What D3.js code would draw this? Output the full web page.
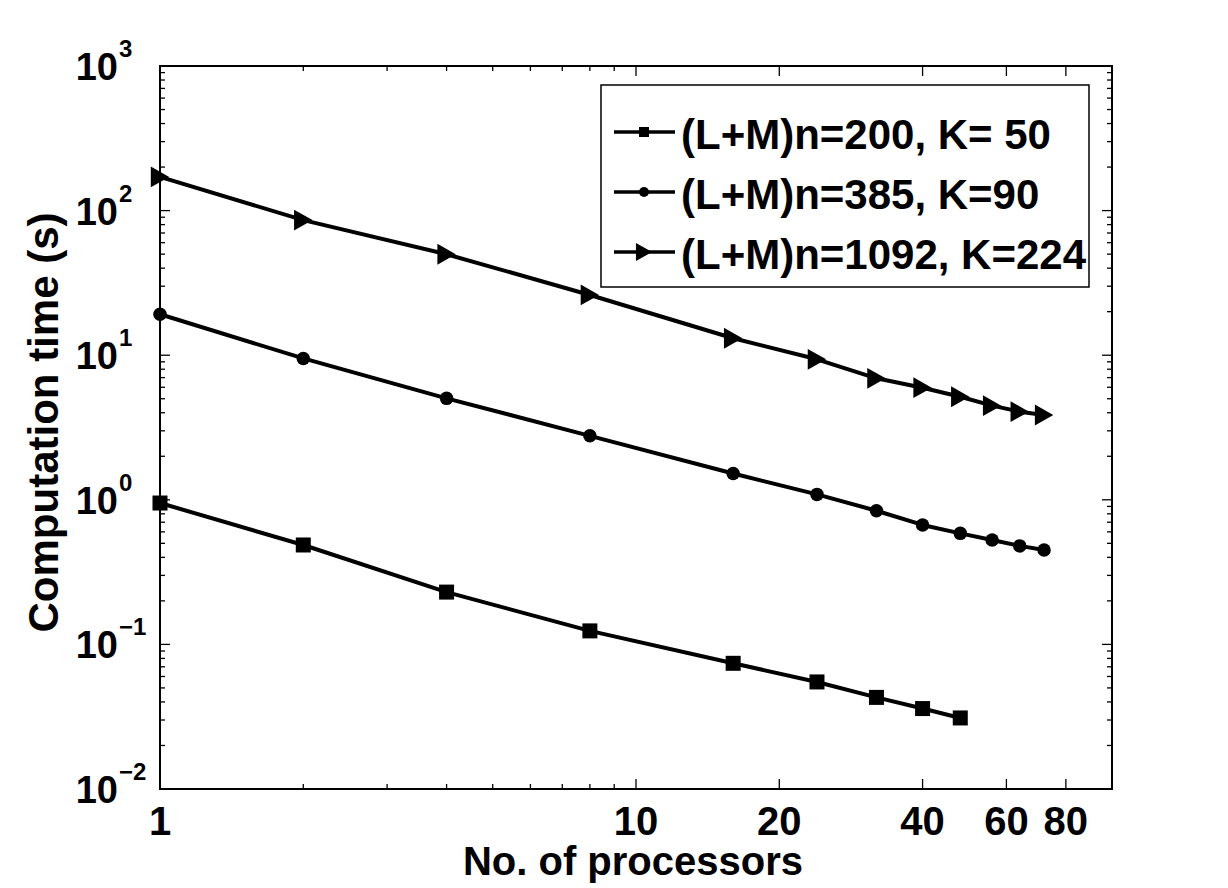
<!DOCTYPE html>
<html>
<head>
<meta charset="utf-8">
<script src="https://cdn.jsdelivr.net/npm/d3@7"></script>
<style>
    body { margin: 0; background: #fff; }
    text { font-family: "Liberation Sans", Arial, Helvetica, sans-serif; font-weight: bold; fill: #000; }
</style>
</head>
<body>
<svg id="chart" width="1228" height="888"></svg>
<script>
    // number of processors used in each run
    const procs = [1, 2, 4, 8, 16, 24, 32, 40, 48, 56, 64, 72];

    // computation time (s) per series
    const timeK50 = [0.95, 0.487, 0.23, 0.124, 0.074, 0.055, 0.043, 0.036, 0.031];
    const timeK90 = [19.2, 9.5, 5.03, 2.77, 1.52, 1.09, 0.84, 0.67, 0.586, 0.527, 0.48, 0.45];
    const timeK224 = [171, 86, 49.9, 26.1, 13.1, 9.37, 6.92, 5.96, 5.16, 4.48, 4.07, 3.86];

    const seriesNames = ['(L+M)n=200, K= 50', '(L+M)n=385, K=90', '(L+M)n=1092, K=224'];
    const seriesMarkers = ['square', 'circle', 'triangle'];

    const xTickValues = [1, 10, 20, 40, 60, 80];
    const yTickExponents = [-2, -1, 0, 1, 2, 3];

    let margin = {top: 66, right: 116, bottom: 99, left: 160},
        width = 1228 - margin.left - margin.right,
        height = 888 - margin.top - margin.bottom,
        majorTick = 10,
        minorTick = 5,
        lineWidth = 4;

    const svg = d3.select('#chart');
    const g = svg.append('g')
        .attr('transform', `translate(${margin.left},${margin.top})`);

    const x = d3.scaleLog().domain([1, 100]).range([0, width]);
    const y = d3.scaleLog().domain([1e-2, 1e3]).range([height, 0]);

    const series = [timeK50, timeK90, timeK224].map((vals, i) => ({
        name: seriesNames[i],
        marker: seriesMarkers[i],
        points: vals.map((v, j) => ({p: procs[j], t: v}))
    }));

    // ticks: minor ones inside the first decade on x, every 1..9 on y
    const xMinor = x.ticks().filter(v => v > 1 && v < 10);
    const yMinor = y.ticks().filter(v => !yTickExponents.some(e => Math.abs(Math.log10(v) - e) < 1e-6));
    const yMajor = yTickExponents.map(e => Math.pow(10, e));

    function drawTicks(values, len) {
        const tk = g.append('g').attr('stroke', '#000').attr('stroke-width', 1.3);
        values.filter(v => v <= 100).forEach(v => {
            const px = x(v);
            tk.append('line').attr('x1', px).attr('x2', px).attr('y1', height).attr('y2', height - len);
            tk.append('line').attr('x1', px).attr('x2', px).attr('y1', 0).attr('y2', len);
        });
    }
    function drawYTicks(values, len) {
        const tk = g.append('g').attr('stroke', '#000').attr('stroke-width', 1.3);
        values.forEach(v => {
            const py = y(v);
            tk.append('line').attr('x1', 0).attr('x2', len).attr('y1', py).attr('y2', py);
            tk.append('line').attr('x1', width).attr('x2', width - len).attr('y1', py).attr('y2', py);
        });
    }
    drawTicks(xMinor, minorTick);
    drawTicks(xTickValues, majorTick);
    drawYTicks(yMinor, minorTick);
    drawYTicks(yMajor, majorTick);

    // axes box
    g.append('rect')
        .attr('width', width)
        .attr('height', height)
        .attr('fill', 'none')
        .attr('stroke', '#000')
        .attr('stroke-width', 2);

    // x tick labels
    g.append('g').selectAll('text')
        .data(xTickValues)
        .join('text')
        .attr('x', d => x(d))
        .attr('y', height + 46)
        .attr('text-anchor', 'middle')
        .style('font-size', '40px')
        .text(d => d);

    // y tick labels as 10 with a superscript exponent
    g.append('g').selectAll('text')
        .data(yTickExponents)
        .join('text')
        .attr('x', -42)
        .attr('y', d => y(Math.pow(10, d)) + 14)
        .attr('text-anchor', 'end')
        .style('font-size', '38px')
        .text('10');
    g.append('g').selectAll('text')
        .data(yTickExponents)
        .join('text')
        .attr('x', -41)
        .attr('y', d => y(Math.pow(10, d)) - 9)
        .attr('text-anchor', 'start')
        .style('font-size', '24px')
        .text(d => d < 0 ? '\u2212' + Math.abs(d) : d);

    // axis titles
    g.append('text')
        .attr('x', width / 2 - 3)
        .attr('y', height + 86)
        .attr('text-anchor', 'middle')
        .style('font-size', '40px')
        .text('No. of processors');

    g.append('text')
        .attr('transform', `translate(${-102},${height / 2 - 5}) rotate(-90)`)
        .attr('text-anchor', 'middle')
        .style('font-size', '42px')
        .text('Computation time (s)');

    // lines
    const line = d3.line()
        .x(d => x(d.p))
        .y(d => y(d.t));

    g.append('g').selectAll('path')
        .data(series)
        .join('path')
        .attr('d', d => line(d.points))
        .attr('fill', 'none')
        .attr('stroke', '#000')
        .attr('stroke-width', lineWidth)
        .attr('stroke-linejoin', 'round');

    function drawMarker(sel, type, s) {
        if (type === 'square') {
            sel.append('rect').attr('x', -s / 2).attr('y', -s / 2).attr('width', s).attr('height', s).attr('fill', '#000');
        } else if (type === 'circle') {
            sel.append('circle').attr('r', s / 2).attr('fill', '#000');
        } else {
            const w = s * 1.15, h = s * 1.3;
            sel.append('path').attr('d', `M${-w / 2},${-h / 2}L${w / 2},0L${-w / 2},${h / 2}Z`).attr('fill', '#000');
        }
    }
    const markerSize = {square: 15, circle: 13.5, triangle: 16};

    series.forEach(s => {
        s.points.forEach(pt => {
            const m = g.append('g').attr('transform', `translate(${x(pt.p)},${y(pt.t)})`);
            drawMarker(m, s.marker, markerSize[s.marker]);
        });
    });

    // legend
    const legend = g.append('g').attr('transform', `translate(${441},${19})`);
    legend.append('rect')
        .attr('width', 488)
        .attr('height', 202)
        .attr('fill', '#fff')
        .attr('stroke', '#000')
        .attr('stroke-width', 1.5);
    const legendSmall = {square: 10, circle: 10, triangle: 14};
    series.forEach((s, i) => {
        const ly = 47 + i * 60;
        const row = legend.append('g').attr('transform', `translate(0,${ly})`);
        row.append('line').attr('x1', 13).attr('x2', 74).attr('y1', 0).attr('y2', 0)
            .attr('stroke', '#000').attr('stroke-width', 3.5);
        drawMarker(row.append('g').attr('transform', 'translate(43,0)'), s.marker, legendSmall[s.marker]);
        row.append('text')
            .attr('x', 80)
            .attr('y', 17)
            .style('font-size', '42px')
            .text(s.name);
    });
</script>
</body>
</html>
